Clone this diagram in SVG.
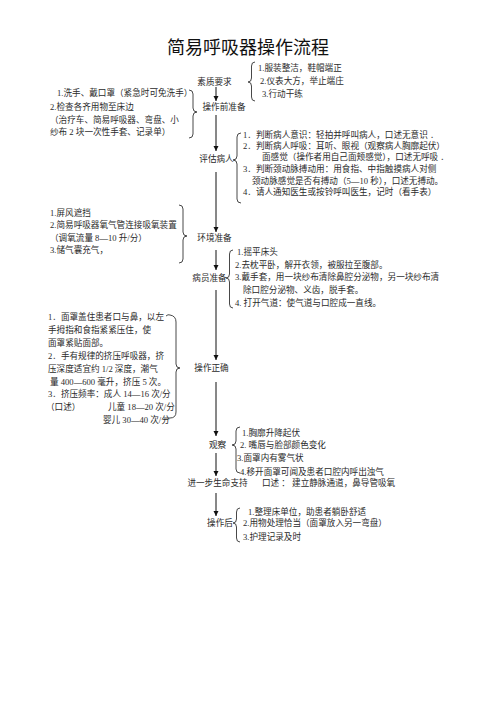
<svg xmlns="http://www.w3.org/2000/svg" width="496" height="702" viewBox="0 0 496 702">
<defs>
<marker id="ah" viewBox="0 0 10 10" refX="10" refY="5" markerWidth="5" markerHeight="7" markerUnits="userSpaceOnUse" orient="auto">
<path d="M0,0 L10,5 L0,10 Z" fill="#111"/>
</marker>
</defs>
<style>
text{font-family:'Liberation Serif','Noto Sans CJK SC',serif;font-size:8.6px;fill:#2a2a2a}
.t{font-family:'Noto Sans CJK SC',sans-serif;font-size:18px;fill:#111}
.n{text-anchor:middle}
.b{fill:none;stroke:#333;stroke-width:0.9}
.c{fill:none;stroke:#111;stroke-width:1}
</style>
<rect width="496" height="702" fill="#fff"/>
<g id="title"><text class="t" x="248" y="54" text-anchor="middle">简易呼吸器操作流程</text></g>

<g id="quality">
<text class="n" x="214.5" y="85.3">素质要求</text>
<path class="b" d="M255,62 Q251.5,62 251.5,66 L251.5,78 Q251.5,82 248,82 Q251.5,82 251.5,86 L251.5,97 Q251.5,101 255,101"/>
<text x="258" y="71.3">1.服装整洁，鞋帽端正</text>
<text x="260" y="84.3">2.仪表大方，举止端庄</text>
<text x="262" y="97.3">3.行动干练</text>
</g>

<g id="prep">
<text class="n" x="224" y="110.3">操作前准备</text>
<path class="b" d="M189,90 Q193,90 193,94 L193,108 Q193,112 197,112 Q193,112 193,116 L193,134 Q193,138 189,138"/>
<text x="57" y="96.3">1.洗手、戴口罩（紧急时可免洗手）</text>
<text x="50" y="110.3">2.检查各齐用物至床边</text>
<text x="50" y="123.3">（治疗车、简易呼吸器、弯盘、小</text>
<text x="50" y="135.3">纱布 2 块一次性手套、记录单）</text>
</g>

<g id="assess">
<text class="n" x="216.5" y="162.3">评估病人</text>
<path class="b" d="M241,133 Q237,133 237,137 L237,156 Q237,160 233,160 Q237,160 237,164 L237,199 Q237,203 241,203"/>
<text x="243" y="138.3">1．判断病人意识：轻拍并呼叫病人，口述无意识 ．</text>
<text x="243" y="149.3">2．判断病人呼吸：耳听、眼视（观察病人胸廓起伏）</text>
<text x="262" y="160.3">面感觉（操作者用自己面颊感觉），口述无呼吸 ．</text>
<text x="243" y="172.3">3．判断颈动脉搏动用：用食指、中指触摸病人对侧</text>
<text x="252" y="184.3">颈动脉感觉是否有搏动（5—10 秒），口述无搏动。</text>
<text x="243" y="195.3">4．请人通知医生或按铃呼叫医生，记时（看手表）</text>
</g>

<g id="env">
<text class="n" x="214.5" y="241.3">环境准备</text>
<path class="b" d="M179,205 Q183,205 183,209 L183,232 Q183,236 187,236 Q183,236 183,240 L183,259 Q183,263 179,263"/>
<text x="50" y="216.3">1.屏风遮挡</text>
<text x="50" y="228.3">2.简易呼吸器氧气管连接吸氧装置</text>
<text x="50" y="241.3">（调氧流量 8—10 升/分）</text>
<text x="50" y="253.3">3.储气囊充气，</text>
</g>

<g id="patient">
<text class="n" x="209.5" y="281.3">病员准备</text>
<path class="b" d="M233,250 Q229.5,250 229.5,254 L229.5,274 Q229.5,278 226,278 Q229.5,278 229.5,282 L229.5,304 Q229.5,308 233,308"/>
<text x="237" y="255.3">1.摇平床头</text>
<text x="235" y="268.3">2.去枕平卧，解开衣领，被服拉至腹部。</text>
<text x="235" y="280.3">3.戴手套，用一块纱布清除鼻腔分泌物，另一块纱布清</text>
<text x="243" y="293.3">除口腔分泌物、义齿，脱手套。</text>
<text x="235" y="306.3">4. 打开气道：使气道与口腔成一直线。</text>
</g>

<g id="operate">
<text class="n" x="211.5" y="371.3">操作正确</text>
<path class="b" d="M166,316 Q168,314 170,315 Q176,316 176,322 L176,364 Q176,368 180,368 Q176,368 176,372 L176,412 Q176,418 170,418 L164,418"/>
<text x="48" y="320.3">1．面罩盖住患者口与鼻，以左</text>
<text x="48" y="333.3">手拇指和食指紧紧压住，使</text>
<text x="48" y="346.3">面罩紧贴面部。</text>
<text x="48" y="359.3">2．手有规律的挤压呼吸器，挤</text>
<text x="48" y="372.3">压深度适宜约 1/2 深度，潮气</text>
<text x="50" y="385.3">量 400—600 毫升，挤压 5 次。</text>
<text x="48" y="397.3">3．挤压频率：成人 14—16 次/分</text>
<text x="46" y="410.3">（口述）</text>
<text x="108" y="410.3">儿童 18—20 次/分</text>
<text x="103" y="423.3">婴儿 30—40 次/分</text>
</g>

<g id="observe">
<text class="n" x="217.5" y="448.3">观察</text>
<path class="b" d="M240,427 Q236,427 236,431 L236,441 Q236,445 232,445 Q236,445 236,449 L236,469 Q236,473 240,473"/>
<text x="242" y="436.3">1.胸廓升降起伏</text>
<text x="240" y="448.3">2.  嘴唇与脸部颜色变化</text>
<text x="237" y="461.3">3.面罩内有雾气状</text>
<text x="240" y="475.3">4.移开面罩可闻及患者口腔内呼出浊气</text>
</g>

<g id="advanced">
<text class="n" x="217.5" y="486.3">进一步生命支持</text>
<text x="262" y="486.3">口述 ： 建立静脉通道，鼻导管吸氧</text>
</g>

<g id="after">
<text class="n" x="220" y="526.3">操作后</text>
<path class="b" d="M240,508 Q236.5,508 236.5,512 L236.5,519 Q236.5,523 233,523 Q236.5,523 236.5,527 L236.5,538 Q236.5,542 240,542"/>
<text x="248" y="515.3">1.整理床单位，助患者躺卧舒适</text>
<text x="243" y="526.3">2.用物处理恰当（面罩放入另一弯盘）</text>
<text x="243" y="540.3">3.护理记录及时</text>
</g>

<g id="connectors">
<line class="c" x1="216" y1="87" x2="216" y2="101" marker-end="url(#ah)"/>
<line class="c" x1="216" y1="115" x2="216" y2="151" marker-end="url(#ah)"/>
<line class="c" x1="216" y1="172" x2="216" y2="232" marker-end="url(#ah)"/>
<line class="c" x1="216" y1="250" x2="216" y2="270" marker-end="url(#ah)"/>
<line class="c" x1="216" y1="290" x2="216" y2="360" marker-end="url(#ah)"/>
<line class="c" x1="216" y1="382" x2="216" y2="436" marker-end="url(#ah)"/>
<line class="c" x1="216" y1="453" x2="216" y2="476" marker-end="url(#ah)"/>
<line class="c" x1="216" y1="493" x2="216" y2="516" marker-end="url(#ah)"/>
</g>
</svg>
